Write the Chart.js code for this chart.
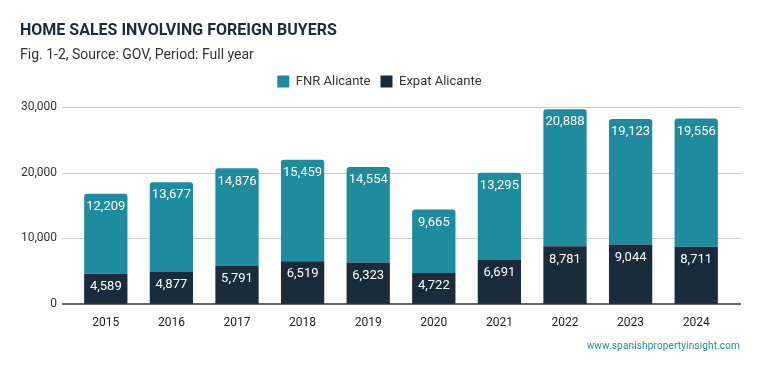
<!DOCTYPE html>
<html>
<head>
<meta charset="utf-8">
<script src="https://cdn.jsdelivr.net/npm/chart.js@4"></script>
<style>
  html, body { margin: 0; padding: 0; background: #ffffff; }
  #wrap { width: 759px; height: 371px; position: relative; }
</style>
</head>
<body>
<div id="wrap"><canvas id="c"></canvas></div>
<script>
const years = ['2015','2016','2017','2018','2019','2020','2021','2022','2023','2024'];
const fnrAlicante = [12209, 13677, 14876, 15459, 14554, 9665, 13295, 20888, 19123, 19556];
const expatAlicante = [4589, 4877, 5791, 6519, 6323, 4722, 6691, 8781, 9044, 8711];
const yTicks = [0, 10000, 20000, 30000];

const TEAL = '#1e8c9e';
const DARK = '#1a2b3b';

const spacerPlugin = {
  id: 'spacer',
  beforeInit(chart) {
    const box = {
      position: 'top', weight: 500, fullSize: true,
      options: {},
      left: 0, top: 0, right: 0, bottom: 0, width: 0, height: 0,
      update(maxWidth, maxHeight) { this.width = maxWidth; this.height = 9; },
      isHorizontal() { return true; },
      draw() {}
    };
    Chart.layouts.addBox(chart, box);
  },
  afterLayout(chart) {
    if (chart.legend) { chart.legend.left += 5; chart.legend.right += 5; }
  }
};

const gridPlugin = {
  id: 'extGrid',
  beforeDatasetsDraw(chart) {
    const ctx = chart.ctx;
    const y = chart.scales.y;
    const ca = chart.chartArea;
    ctx.save();
    yTicks.forEach(v => {
      if (v === 0) return;
      const py = Math.round(y.getPixelForValue(v)) + 0.5;
      ctx.strokeStyle = '#cccccc';
      ctx.lineWidth = 1;
      ctx.beginPath();
      ctx.moveTo(ca.left - 11, py);
      ctx.lineTo(ca.right + 12, py);
      ctx.stroke();
    });
    ctx.restore();
  },
  afterDatasetsDraw(chart) {
    const ctx = chart.ctx;
    const y = chart.scales.y;
    const ca = chart.chartArea;
    ctx.save();
    const py = y.getPixelForValue(0);
    ctx.strokeStyle = '#333333';
    ctx.lineWidth = 1.5;
    ctx.beginPath();
    ctx.moveTo(ca.left - 11, py);
    ctx.lineTo(ca.right + 12, py);
    ctx.stroke();
    // data labels
    ctx.fillStyle = '#ffffff';
    ctx.font = '13px Roboto';
    ctx.textAlign = 'center';
    ctx.textBaseline = 'middle';
    chart.data.datasets.forEach((ds, di) => {
      const meta = chart.getDatasetMeta(di);
      meta.data.forEach((bar, i) => {
        ctx.fillText(ds.data[i].toLocaleString('en-US'), bar.x, bar.y + 13);
      });
    });
    // footer
    ctx.fillStyle = TEAL;
    ctx.font = '10px Roboto';
    ctx.textAlign = 'right';
    try { ctx.letterSpacing = '0.15px'; } catch (e) {}
    ctx.fillText('www.spanishpropertyinsight.com', 740, 346);
    ctx.restore();
  }
};

new Chart(document.getElementById('c'), {
  type: 'bar',
  data: {
    labels: years,
    datasets: [
      {
        label: 'Expat Alicante',
        data: expatAlicante,
        backgroundColor: DARK,
        borderWidth: 0,
        barPercentage: 0.66,
        categoryPercentage: 1.0
      },
      {
        label: 'FNR Alicante',
        data: fnrAlicante,
        backgroundColor: TEAL,
        borderWidth: 0,
        borderRadius: { topLeft: 3, topRight: 3, bottomLeft: 0, bottomRight: 0 },
        borderSkipped: false,
        barPercentage: 0.66,
        categoryPercentage: 1.0
      }
    ]
  },
  options: {
    responsive: true,
    maintainAspectRatio: false,
    animation: false,
    layout: { padding: { left: 20, right: 30, top: 0, bottom: 37 } },
    plugins: {
      title: {
        display: true,
        text: 'HOME SALES INVOLVING FOREIGN BUYERS',
        align: 'start',
        color: DARK,
        font: { family: 'Roboto', size: 16, weight: 'bold' },
        padding: { top: 21, bottom: 4 }
      },
      subtitle: {
        display: true,
        text: 'Fig. 1-2, Source: GOV, Period: Full year',
        align: 'start',
        color: '#333333',
        font: { family: 'Roboto', size: 14 },
        padding: { top: 3, bottom: 1 }
      },
      legend: {
        display: true,
        reverse: true,
        labels: {
          color: '#333333',
          font: { family: 'Roboto', size: 13 },
          boxWidth: 12,
          boxHeight: 12,
          padding: 10
        }
      },
      tooltip: { enabled: false }
    },
    scales: {
      x: {
        stacked: true,
        grid: { display: false, drawTicks: false },
        border: { display: false },
        ticks: { color: '#222222', font: { family: 'Roboto', size: 12 }, padding: 12 },
        afterFit(scale) { scale.height = 30; }
      },
      y: {
        stacked: true,
        min: 0,
        max: 30000,
        grid: { display: false, drawTicks: false },
        border: { display: false },
        afterBuildTicks(scale) { scale.ticks = yTicks.map(v => ({ value: v })); },
        ticks: {
          color: '#333333',
          font: { family: 'Roboto', size: 12 },
          padding: 16,
          callback: v => v.toLocaleString('en-US')
        },
        afterFit(scale) { scale.width = 53; }
      }
    }
  },
  plugins: [spacerPlugin, gridPlugin]
});
</script>
</body>
</html>
